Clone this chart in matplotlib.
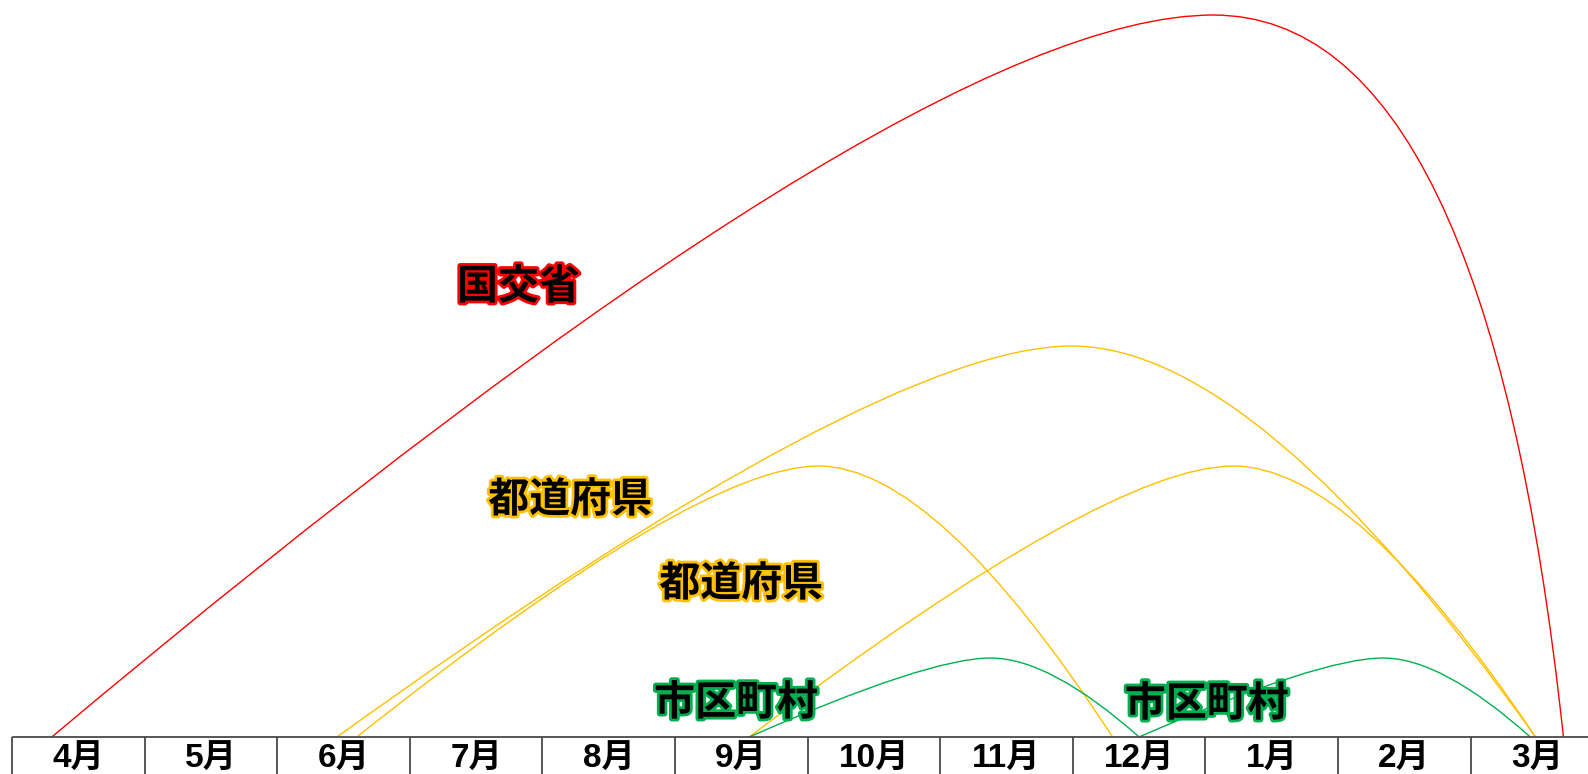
import matplotlib
matplotlib.use("Agg")
import matplotlib.pyplot as plt
from matplotlib.path import Path
from matplotlib.patches import PathPatch
import matplotlib.patheffects as pe

plt.rcParams['font.family'] = ['Noto Sans CJK JP', 'DejaVu Sans']

# ---- data ----
months = ["4月", "5月", "6月", "7月", "8月", "9月", "10月", "11月", "12月", "1月", "2月", "3月"]

# arcs: positions in month units (0 = start of April), heights in chart units
arc_start = [0.30, 2.45, 2.60, 5.56, 5.56, 8.50]
arc_peak_x = [9.06, 7.99, 6.08, 9.21, 7.38, 10.34]
arc_end = [11.70, 11.49, 8.30, 11.49, 8.50, 11.45]
arc_height = [722, 391, 271, 271, 79, 79]
arc_colors = ["#FF0000", "#FFC000", "#FFC000", "#FFC000", "#00B050", "#00B050"]
arc_end_bend = [0.78, 0.40, 0.40, 0.40, 0.40, 0.40]

label_text = ["国交省", "都道府県", "都道府県", "市区町村", "市区町村"]
label_x = [3.82, 4.21, 5.50, 5.46, 9.01]
label_y = [450, 237, 153, 34, 33]
label_colors = ["#FF0000", "#FFC000", "#FFC000", "#00B050", "#00B050"]

# ---- figure ----
W, H = 1588, 774
fig = plt.figure(figsize=(W / 100, H / 100), dpi=100)
ax = fig.add_axes([0, 0, 1, 1])
cell = 132.6
left_px = 12
base_px = 737
ax.set_xlim(-left_px / cell, (W - left_px) / cell)
ax.set_ylim(-(H - base_px), base_px)
ax.axis("off")

# table
tcol = "#4a4a4a"
ax.plot([0, 12.5], [0, 0], color=tcol, lw=1.3, solid_capstyle="butt")
for i in range(len(months)):
    ax.plot([i, i], [0, -(H - base_px) - 5], color=tcol, lw=1.3, solid_capstyle="butt")
    ax.text(i + 0.5, -22, months[i], ha="center", va="center", fontsize=24,
            fontweight="bold", family=["Liberation Sans", "Noto Sans CJK JP"], color="black")

# arcs
fl = 0.74
for xs, xp, xe, h, c, fr in zip(arc_start, arc_peak_x, arc_end, arc_height, arc_colors, arc_end_bend):
    verts = [(xs, 0), (xs + fl * (xp - xs), h), (xp, h),
             (xp + fr * (xe - xp), h), (xe, 0)]
    codes = [Path.MOVETO, Path.CURVE3, Path.CURVE3, Path.CURVE3, Path.CURVE3]
    ax.add_patch(PathPatch(Path(verts, codes), facecolor="none", edgecolor=c, lw=1.0))

# labels
for t, x, y, c in zip(label_text, label_x, label_y, label_colors):
    ax.text(x, y, t, ha="center", va="center", fontsize=29.5, fontweight="bold",
            color="black",
            path_effects=[pe.Stroke(linewidth=4, foreground=c), pe.Normal()])

fig.savefig("out.png", dpi=100)
